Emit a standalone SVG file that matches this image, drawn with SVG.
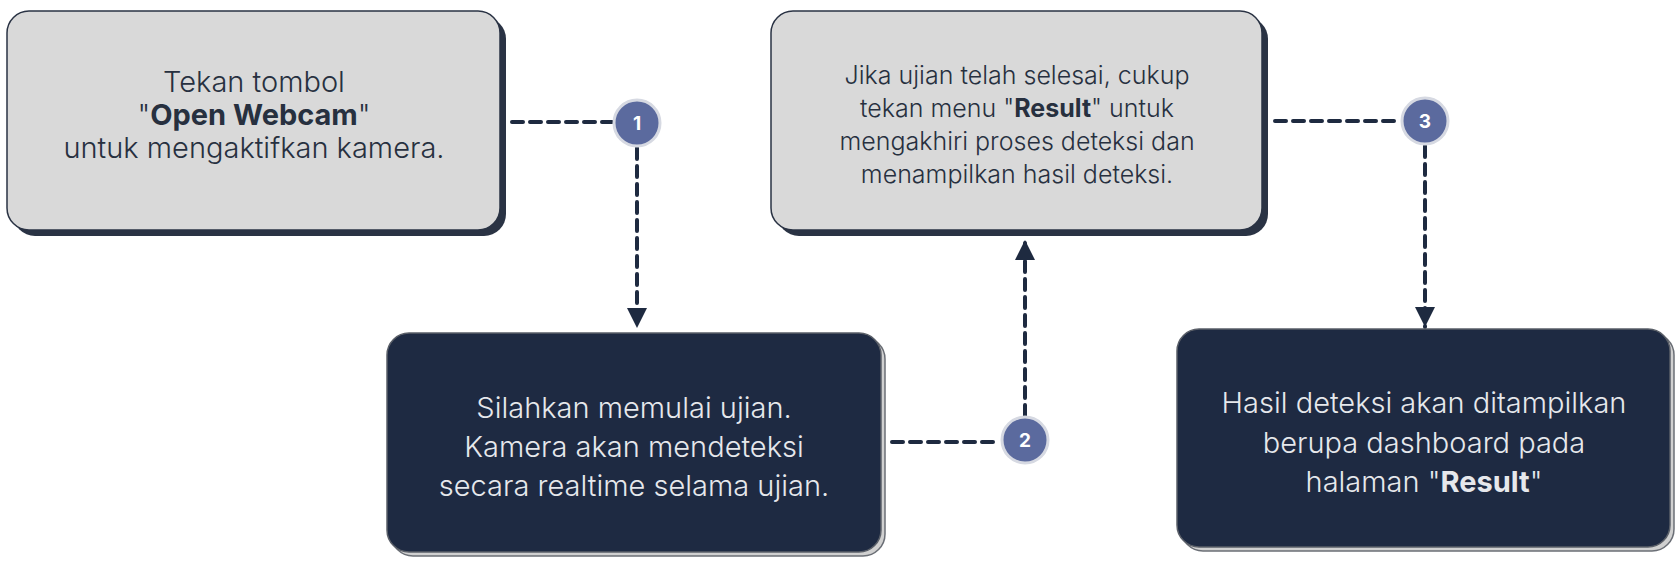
<svg xmlns="http://www.w3.org/2000/svg" width="1680" height="565" viewBox="0 0 1680 565">
<defs>
<style>
.lt{fill:#d9d9d9;stroke:#2a3344;stroke-width:1.5}
.ltsh{fill:#2a3344}
.dk{fill:#1e2a42;stroke:#5a5f68;stroke-width:1.5}
.dksh{fill:#d0d0d0;stroke:#6b6f76;stroke-width:1.5}
.t{font-family:Inter,"Liberation Sans",sans-serif;text-anchor:middle;font-weight:300}
.tl{fill:#27303f}
.td{fill:#e6e8ec}
.con{fill:none;stroke:#1e2a40;stroke-width:4;stroke-dasharray:11 7;stroke-linecap:round}
.ring{fill:#5b6a9e;stroke:#d6d9e2;stroke-width:3}
.num{font-family:Inter,"Liberation Sans",sans-serif;font-weight:700;font-size:19px;fill:#ffffff;text-anchor:middle}
</style>
<marker id="ah" viewBox="0 0 10 10" refX="10" refY="5" markerWidth="5" markerHeight="5" orient="auto" markerUnits="strokeWidth">
<path d="M0,0 L10,5 L0,10 z" fill="#1e2a40"/>
</marker>
</defs>
<rect width="1680" height="565" fill="#ffffff"/>
<g id="connectors">
<path class="con" d="M512,122 H612"/>
<path class="con" d="M637,148 V328" marker-end="url(#ah)"/>
<path class="con" d="M892,442 H1000"/>
<path class="con" d="M1025,416 V240" marker-end="url(#ah)"/>
<path class="con" d="M1275,121 H1400"/>
<path class="con" d="M1425,146 V327" marker-end="url(#ah)"/>
</g>
<g id="node1">
<rect class="ltsh" x="13" y="17" width="493" height="219" rx="22"/>
<rect class="lt" x="7" y="11" width="493" height="219" rx="22"/>
<text class="t tl" font-size="29" x="254" y="92">Tekan tombol</text>
<text class="t tl" font-size="29" x="254" y="125">"<tspan font-weight="700">Open Webcam</tspan>"</text>
<text class="t tl" font-size="29" x="254" y="158">untuk mengaktifkan kamera.</text>
</g>
<g id="node2">
<rect class="dksh" x="391" y="337" width="494" height="219" rx="22"/>
<rect class="dk" x="387" y="333" width="494" height="219" rx="22"/>
<text class="t td" font-size="29" x="634" y="418">Silahkan memulai ujian.</text>
<text class="t td" font-size="29" x="634" y="457">Kamera akan mendeteksi</text>
<text class="t td" font-size="29" x="634" y="496">secara realtime selama ujian.</text>
</g>
<g id="node3">
<rect class="ltsh" x="777" y="17" width="491" height="219" rx="22"/>
<rect class="lt" x="771" y="11" width="491" height="219" rx="22"/>
<text class="t tl" font-size="25" x="1017" y="84">Jika ujian telah selesai, cukup</text>
<text class="t tl" font-size="25" x="1017" y="117">tekan menu "<tspan font-weight="700">Result</tspan>" untuk</text>
<text class="t tl" font-size="25" x="1017" y="150">mengakhiri proses deteksi dan</text>
<text class="t tl" font-size="25" x="1017" y="183">menampilkan hasil deteksi.</text>
</g>
<g id="node4">
<rect class="dksh" x="1181" y="333" width="493" height="218" rx="22"/>
<rect class="dk" x="1177" y="329" width="493" height="218" rx="22"/>
<text class="t td" font-size="29" x="1424" y="413">Hasil deteksi akan ditampilkan</text>
<text class="t td" font-size="29" x="1424" y="453">berupa dashboard pada</text>
<text class="t td" font-size="29" x="1424" y="492">halaman "<tspan font-weight="700">Result</tspan>"</text>
</g>
<g id="badge1">
<circle class="ring" cx="637" cy="123" r="23"/>
<text class="num" x="637" y="130">1</text>
</g>
<g id="badge2">
<circle class="ring" cx="1025" cy="440" r="23"/>
<text class="num" x="1025" y="447">2</text>
</g>
<g id="badge3">
<circle class="ring" cx="1425" cy="121" r="23"/>
<text class="num" x="1425" y="128">3</text>
</g>
</svg>
